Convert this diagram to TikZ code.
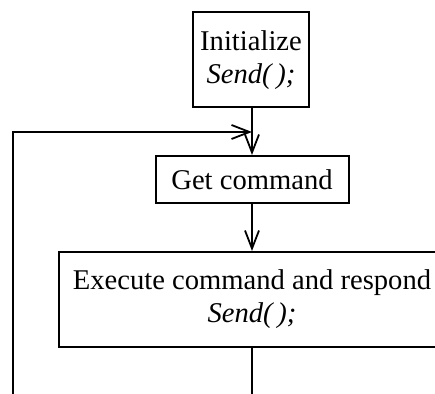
\documentclass[tikz,border=0pt]{standalone}
\usepackage{fontspec}
\setmainfont{Liberation Serif}
\usepackage{tikz}
\usetikzlibrary{arrows.meta}

\tikzset{
  stepbox/.style={draw, line width=1pt, align=center, inner sep=0pt,
    font=\fontsize{14.3}{16.5}\selectfont},
  flow/.style={line width=1pt, -{Straight Barb[length=9pt,width=7pt,line width=0.9pt]}}
}

\begin{document}
\begin{tikzpicture}[x=0.5pt,y=0.5pt]

\pgfmathsetmacro{\xmid}{252}
\pgfmathsetmacro{\xloop}{13}

  \useasboundingbox (0,0) rectangle (435,394);
  \clip (0,0) rectangle (435,394);

  % Boxes
  \node[stepbox, minimum width=58pt, minimum height=47.5pt] (init) at (\xmid-1,334)
    {Initialize\\ \textit{Send(\,);}};
  \node[stepbox, minimum width=96.5pt, minimum height=23.5pt] (get) at (\xmid,214.5)
    {Get command};
  \node[stepbox, minimum width=193pt, minimum height=47.5pt] (exec) at (\xmid,94.5)
    {Execute command and respond\\ \textit{Send(\,);}};

  % Loop back
  \coordinate (join) at (\xmid,262);
  \coordinate (loopbot) at (\xloop,0);
  \coordinate (outbot) at (\xmid,0);

  \draw[flow] (init.south -| join) -- (get.north);
  \draw[flow] (get.south) -- (exec.north);
  \draw[line width=1pt] (exec.south) -- (outbot); % leaves the picture
  \draw[flow] (loopbot) |- (join);

\end{tikzpicture}
\end{document}
